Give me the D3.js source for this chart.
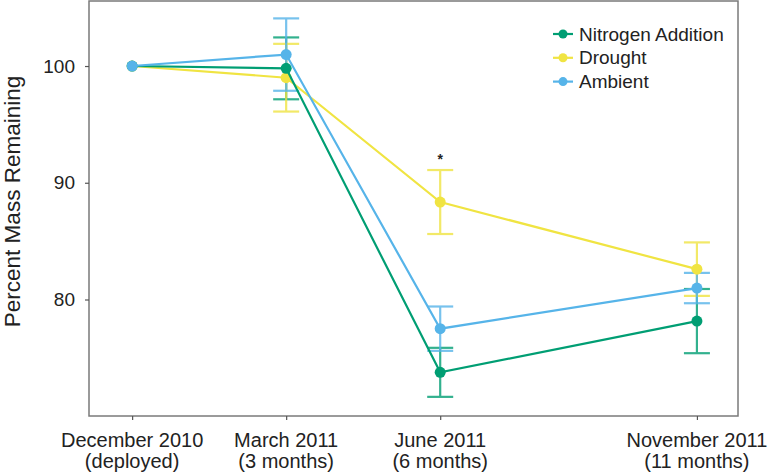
<!DOCTYPE html>
<html>
<head>
<meta charset="utf-8">
<script src="https://cdn.jsdelivr.net/npm/d3@7"></script>
<style>
  html, body { margin: 0; padding: 0; background: #fff; }
  svg { display: block; font-family: "Liberation Sans", Arial, Helvetica, sans-serif; }
</style>
</head>
<body>
<svg id="chart" width="768" height="474"></svg>
<script>
// ---- data ----
const months = [0, 3, 6, 11];
const tickLine1 = ["December 2010", "March 2011", "June 2011", "November 2011"];
const tickLine2 = ["(deployed)", "(3 months)", "(6 months)", "(11 months)"];
const yTicks = [80, 90, 100];

const seriesNames = ["Nitrogen Addition", "Drought", "Ambient"];
const nitrogenMean = [100, 99.8, 73.76, 78.15];
const nitrogenErr  = [0, 2.65, 2.1, 2.75];
const droughtMean  = [100, 99.0, 88.35, 82.6];
const droughtErr   = [0, 2.9, 2.74, 2.29];
const ambientMean  = [100, 100.98, 77.5, 80.98];
const ambientErr   = [0, 3.1, 1.9, 1.3];
const significance = [{ month: 6, value: 91.6, label: "*" }];

const colors = ["#009E73", "#F0E442", "#56B4E9"];

const series = [
  { name: seriesNames[0], mean: nitrogenMean, err: nitrogenErr, color: colors[0] },
  { name: seriesNames[1], mean: droughtMean, err: droughtErr, color: colors[1] },
  { name: seriesNames[2], mean: ambientMean, err: ambientErr, color: colors[2] }
];

// ---- layout ----
const svg = d3.select("#chart");
const pLeft = 89, pRight = 738, pTop = 1, pBottom = 416;

const x = d3.scaleLinear().domain([-0.84, 11.8]).range([pLeft, pRight]);
const y = d3.scaleLinear().domain([70.02, 105.57]).range([pBottom, pTop]);

// frame
svg.append("rect")
  .attr("x", pLeft).attr("y", pTop)
  .attr("width", pRight - pLeft).attr("height", pBottom - pTop)
  .attr("fill", "none").attr("stroke", "#7a7a7a").attr("stroke-width", 1.5);

// y axis
const yAxis = svg.append("g")
  .attr("transform", `translate(${pLeft},0)`)
  .call(d3.axisLeft(y).tickValues(yTicks).tickSize(4).tickPadding(10).tickFormat(d3.format("d")));
yAxis.select(".domain").remove();
yAxis.selectAll("line").attr("stroke", "#555").attr("stroke-width", 1.2);
yAxis.selectAll("text").attr("font-size", 19).attr("fill", "#222")
  .attr("font-family", "Liberation Sans, Arial, sans-serif");

// x axis
const xAxis = svg.append("g")
  .attr("transform", `translate(0,${pBottom})`)
  .call(d3.axisBottom(x).tickValues(months).tickSize(4).tickFormat(""));
xAxis.select(".domain").remove();
xAxis.selectAll("line").attr("stroke", "#555").attr("stroke-width", 1.2);

const xl = svg.append("g").attr("font-size", 20).attr("fill", "#222").attr("text-anchor", "middle");
months.forEach((m, i) => {
  xl.append("text").attr("x", x(m)).attr("y", pBottom + 31).text(tickLine1[i]);
  xl.append("text").attr("x", x(m)).attr("y", pBottom + 52).text(tickLine2[i]);
});

// y label
svg.append("text")
  .attr("transform", `translate(20,${(pTop + pBottom) / 2 - 7}) rotate(-90)`)
  .attr("text-anchor", "middle")
  .attr("font-size", 22.5).attr("fill", "#222")
  .text("Percent Mass Remaining");

// error bars
const capHalf = 13;
series.forEach(s => {
  const g = svg.append("g").attr("stroke", s.color).attr("stroke-width", 2.2).attr("opacity", 0.8);
  months.forEach((m, i) => {
    if (s.err[i] <= 0) return;
    const hi = y(s.mean[i] + s.err[i]), lo = y(s.mean[i] - s.err[i]);
    g.append("line").attr("x1", x(m)).attr("x2", x(m)).attr("y1", hi).attr("y2", lo);
    g.append("line").attr("x1", x(m) - capHalf).attr("x2", x(m) + capHalf).attr("y1", hi).attr("y2", hi);
    g.append("line").attr("x1", x(m) - capHalf).attr("x2", x(m) + capHalf).attr("y1", lo).attr("y2", lo);
  });
});

// lines and points
const line = d3.line().x((d, i) => x(months[i])).y(d => y(d));
[1, 0, 2].forEach(k => {
  const s = series[k];
  svg.append("path").datum(s.mean)
    .attr("d", line).attr("fill", "none")
    .attr("stroke", s.color).attr("stroke-width", 2.2);
  svg.append("g").selectAll("circle").data(s.mean).join("circle")
    .attr("cx", (d, i) => x(months[i])).attr("cy", d => y(d))
    .attr("r", 5.5).attr("fill", s.color);
});

// significance marker
svg.selectAll(".sig").data(significance).join("text")
  .attr("class", "sig")
  .attr("x", d => x(d.month)).attr("y", d => y(d.value))
  .attr("text-anchor", "middle").attr("font-size", 14).attr("font-weight", "bold").attr("fill", "#222")
  .text(d => d.label);

// legend
const legend = svg.append("g").attr("transform", "translate(553,34)");
series.forEach((s, i) => {
  const r = legend.append("g").attr("transform", `translate(0,${i * 23.8})`);
  r.append("line").attr("x1", 0).attr("x2", 20).attr("y1", 0).attr("y2", 0)
    .attr("stroke", s.color).attr("stroke-width", 2.2);
  r.append("circle").attr("cx", 10).attr("cy", 0).attr("r", 4.5).attr("fill", s.color);
  r.append("text").attr("x", 26).attr("y", 0).attr("dy", "0.35em")
    .attr("font-size", 19).attr("fill", "#222").text(s.name);
});
</script>
</body>
</html>
